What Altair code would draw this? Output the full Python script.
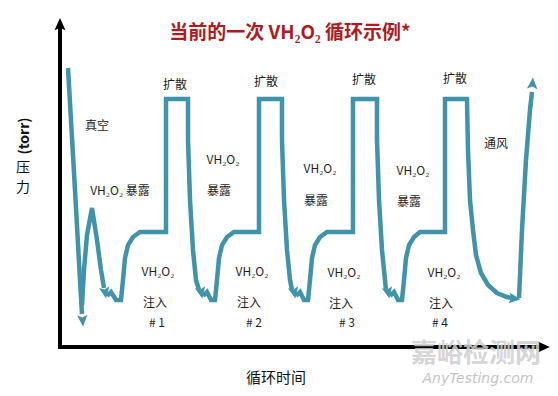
import altair as alt
import pandas as pd

# ---- data (image-pixel coordinates) ----
seg_names = ["A", "B", "C", "D", "E", "F", "G"]
seg_x = [
    [68, 75, 80, 82],
    [82, 84, 87, 92, 97, 101, 104],
    [107, 111, 116, 121, 123, 125, 128, 133, 140, 166, 166, 188, 188, 190, 193, 196, 199],
    [203, 207, 211, 215, 217, 219, 222, 227, 234, 259, 259, 282, 282, 284, 287, 290, 292],
    [296, 300, 304, 308, 310, 312, 315, 320, 327, 353, 353, 377, 377, 379, 382, 385, 386],
    [390, 394, 398, 402, 404, 406, 409, 414, 420, 445, 445, 467, 468, 470, 473, 476, 481, 488, 497, 507, 512],
    [519, 522, 526, 530, 532],
]
seg_y = [
    [68, 190, 280, 314],
    [305, 270, 235, 208, 240, 270, 288],
    [296, 292, 300, 300, 280, 258, 245, 237, 232, 232, 99, 99, 140, 200, 250, 280, 290],
    [296, 292, 300, 300, 280, 258, 245, 237, 232, 232, 99, 99, 140, 200, 250, 280, 290],
    [296, 292, 300, 300, 280, 258, 245, 237, 232, 232, 99, 99, 140, 200, 250, 280, 290],
    [296, 292, 300, 300, 280, 258, 245, 237, 232, 232, 99, 99, 150, 200, 230, 255, 273, 285, 293, 297, 298],
    [298, 230, 160, 110, 92],
]

arrow_x = [82.6, 105, 201, 294, 388, 514, 532.5]
arrow_y = [320, 292, 292, 292, 292, 298.5, 84]
arrow_angle = [176, 171, 168, 168, 168, 96, 4]

label_text = ["真空", "VH₂O₂ 暴露", "VH₂O₂", "暴露", "VH₂O₂", "暴露", "VH₂O₂", "暴露", "通风",
              "扩散", "扩散", "扩散", "扩散",
              "VH₂O₂", "注入", "# 1", "VH₂O₂", "注入", "# 2",
              "VH₂O₂", "注入", "# 3", "VH₂O₂", "注入", "# 4"]
label_x = [97, 120, 223, 219, 320, 316, 413, 409, 496,
           175, 266, 364, 455,
           158, 155, 157, 252, 249, 254,
           344, 341, 347, 444, 441, 440]
label_y = [126, 191, 160, 191, 169, 201, 171, 202, 144,
           85, 82, 80, 79,
           272, 303, 323, 272, 303, 323,
           273, 304, 323, 273, 304, 323]

title_text = "当前的一次 VH₂O₂ 循环示例*"
x_title = "循环时间"
y_title_unit = "(torr)"
y_title_chars = ["压", "力"]

# ---- build tables ----
rows = []
for name, xs, ys in zip(seg_names, seg_x, seg_y):
    for i, (xv, yv) in enumerate(zip(xs, ys)):
        rows.append({"seg": name, "o": i, "x": xv, "y": yv})
path_df = pd.DataFrame(rows)
arrow_df = pd.DataFrame({"x": arrow_x, "y": arrow_y, "a": arrow_angle})
label_df = pd.DataFrame({"t": label_text, "x": label_x, "y": label_y})

XS = alt.Scale(domain=[8, 550], nice=False, zero=False)
YS = alt.Scale(domain=[8, 388], nice=False, zero=False, reverse=True)
X = lambda f="x": alt.X(f"{f}:Q", scale=XS, axis=None)
Y = lambda f="y": alt.Y(f"{f}:Q", scale=YS, axis=None)

TEAL = "#3f93ab"
FONT = "Noto Sans CJK SC"

# axes
axes_df = pd.DataFrame({"x": [60, 58], "x2": [60, 541], "y": [348, 347], "y2": [28, 347]})
axes = alt.Chart(axes_df).mark_rule(color="black", strokeWidth=4).encode(
    x=X(), x2="x2:Q", y=Y(), y2="y2:Q")
axhead_df = pd.DataFrame({"x": [60, 543], "y": [25, 347], "a": [0, 90]})
axheads = alt.Chart(axhead_df).mark_point(
    shape="M0,-1L0.8,0.75L0,0.45L-0.8,0.75Z", filled=True, color="black", opacity=1, size=190
).encode(x=X(), y=Y(), angle=alt.Angle("a:Q", scale=None))

lines = alt.Chart(path_df).mark_line(
    color=TEAL, strokeWidth=4.5, strokeJoin="miter", strokeCap="butt"
).encode(x=X(), y=Y(), detail="seg:N", order="o:Q")

arrows = alt.Chart(arrow_df).mark_point(
    shape="M0,-1L0.8,0.75L0,0.4L-0.8,0.75Z", filled=True, color=TEAL, opacity=1, size=170
).encode(x=X(), y=Y(), angle=alt.Angle("a:Q", scale=None))

labels = alt.Chart(label_df).mark_text(
    font=FONT, fontSize=12, color="#1e1e1e", align="center", baseline="middle"
).encode(x=X(), y=Y(), text="t:N")

title = alt.Chart(pd.DataFrame({"t": [title_text], "x": [290], "y": [33]})).mark_text(
    font=FONT, fontSize=19, fontWeight="bold", color="#b0191e", align="center", baseline="middle"
).encode(x=X(), y=Y(), text="t:N")

xlab = alt.Chart(pd.DataFrame({"t": [x_title], "x": [276], "y": [378]})).mark_text(
    font=FONT, fontSize=15, color="#111111", align="center", baseline="middle"
).encode(x=X(), y=Y(), text="t:N")

ylab1 = alt.Chart(pd.DataFrame({"t": [y_title_unit], "x": [25], "y": [136]})).mark_text(
    font=FONT, fontSize=14, fontWeight="bold", color="#111111", align="center",
    baseline="middle", angle=270
).encode(x=X(), y=Y(), text="t:N")

ylab2 = alt.Chart(pd.DataFrame({"t": y_title_chars, "x": [23, 23], "y": [168, 188]})).mark_text(
    font=FONT, fontSize=14, color="#111111", align="center", baseline="middle"
).encode(x=X(), y=Y(), text="t:N")

wm1 = alt.Chart(pd.DataFrame({"t": ["嘉峪检测网"], "x": [476], "y": [354]})).mark_text(
    font=FONT, fontSize=26, fontWeight="bold", color="#cfcfcf", opacity=0.85,
    align="center", baseline="middle"
).encode(x=X(), y=Y(), text="t:N")
wm2 = alt.Chart(pd.DataFrame({"t": ["AnyTesting.com"], "x": [478], "y": [379]})).mark_text(
    font="DejaVu Sans", fontSize=14, fontStyle="italic", color="#c4c4c4",
    align="center", baseline="middle"
).encode(x=X(), y=Y(), text="t:N")

chart = alt.layer(
    axes, axheads, lines, arrows, labels, title, xlab, ylab1, ylab2, wm1, wm2
).properties(
    width=542, height=380, padding=0,
    autosize=alt.AutoSizeParams(type="none"),
    background="white",
).configure_view(stroke=None)

chart.save("out.html", embed_options={"renderer": "svg", "actions": False})
